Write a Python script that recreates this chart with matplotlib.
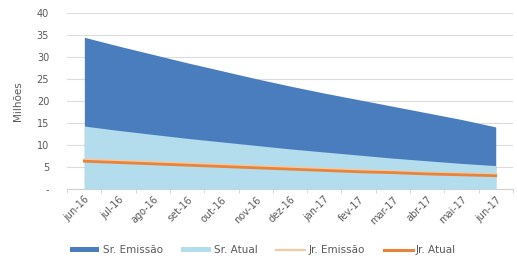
import matplotlib
matplotlib.use("Agg")
import matplotlib.pyplot as plt
from matplotlib.patches import Patch
from matplotlib.lines import Line2D
import numpy as np

months = ["jun-16", "jul-16", "ago-16", "set-16", "out-16", "nov-16", "dez-16",
          "jan-17", "fev-17", "mar-17", "abr-17", "mai-17", "jun-17"]
sr_emissao = [34.5, 32.5, 30.6, 28.7, 26.9, 25.1, 23.4, 21.8, 20.3, 18.8, 17.3, 15.8, 14.1]
sr_atual = [14.3, 13.3, 12.4, 11.5, 10.7, 9.9, 9.1, 8.4, 7.7, 7.0, 6.4, 5.8, 5.3]
jr_emissao = [6.6, 6.3, 6.0, 5.7, 5.4, 5.1, 4.8, 4.5, 4.2, 3.9, 3.6, 3.4, 3.2]
jr_atual = [6.3, 6.0, 5.7, 5.4, 5.1, 4.8, 4.5, 4.2, 3.9, 3.7, 3.4, 3.2, 3.0]
yticks = [0, 5, 10, 15, 20, 25, 30, 35, 40]
ylabels = ["-", "5", "10", "15", "20", "25", "30", "35", "40"]

c_sr_em = "#4a7dbd"
c_sr_at = "#b3dced"
c_jr_em = "#f9c89c"
c_jr_at = "#e8833a"
gray = "#595959"

fig = plt.figure(figsize=(5.17, 2.62), dpi=100)
ax = fig.add_axes([0.130, 0.279, 0.862, 0.671])
x = np.arange(len(months))

ax.fill_between(x, 0, sr_emissao, color=c_sr_em, linewidth=0, zorder=2)
ax.fill_between(x, 0, sr_atual, color=c_sr_at, linewidth=0, zorder=3)
ax.plot(x, jr_emissao, color=c_jr_em, linewidth=2.0, zorder=4)
ax.plot(x, jr_atual, color=c_jr_at, linewidth=2.0, zorder=5)

ax.set_xlim(-0.5, len(months) - 0.5)
ax.set_ylim(0, 40)
ax.set_yticks(yticks)
ax.set_yticklabels(ylabels)
ax.yaxis.grid(True, color="#dcdcdc", linewidth=0.8, zorder=0)
ax.set_axisbelow(True)
ax.tick_params(axis="y", length=0, labelsize=7, labelcolor=gray, pad=13)

ax.set_xticks(x)
ax.set_xticklabels(months, rotation=45, ha="right", rotation_mode="anchor")
ax.set_xticks(np.arange(-0.5, len(months)), minor=True)
ax.tick_params(axis="x", which="major", length=0, labelsize=7, labelcolor=gray, pad=4)
ax.tick_params(axis="x", which="minor", length=3, color="#d0d0d0")

for s in ["top", "right", "left"]:
    ax.spines[s].set_visible(False)
ax.spines["bottom"].set_color("#d0d0d0")
ax.spines["bottom"].set_linewidth(0.8)

ax.set_ylabel("Milhões", fontsize=7.5, color=gray, labelpad=10)

handles = [Patch(facecolor=c_sr_em, edgecolor="none"),
           Patch(facecolor=c_sr_at, edgecolor="none"),
           Line2D([0], [0], color=c_jr_em, linewidth=1.5),
           Line2D([0], [0], color=c_jr_at, linewidth=2.2)]
labels = ["Sr. Emissão", "Sr. Atual", "Jr. Emissão", "Jr. Atual"]
fig.legend(handles, labels, loc="center", bbox_to_anchor=(0.509, 0.045), ncol=4,
           frameon=False, fontsize=7.5, labelcolor=gray, handlelength=2.8,
           handleheight=0.5, columnspacing=1.8, handletextpad=0.3)

fig.savefig("out.png", dpi=100)
